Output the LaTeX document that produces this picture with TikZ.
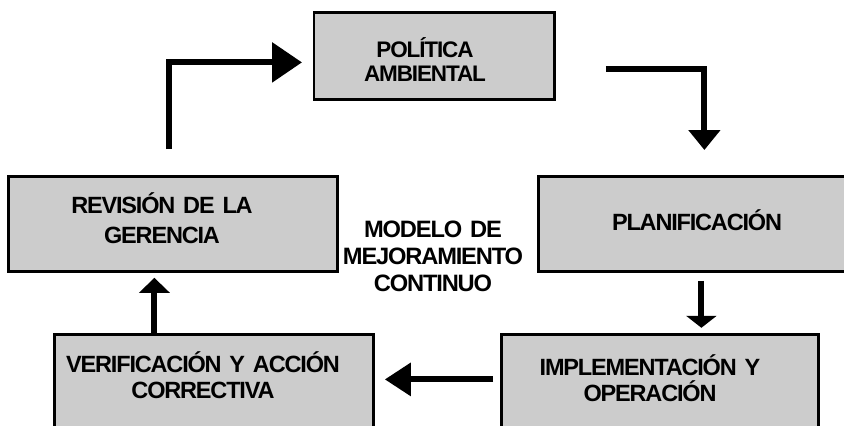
\documentclass[tikz,border=0pt]{standalone}
\usepackage{fontspec}
\setmainfont{Liberation Sans}
\newfontfamily\tightsans[LetterSpace=-5,WordSpace=0.6]{Liberation Sans}
\usetikzlibrary{arrows.meta,calc}
\definecolor{boxgray}{HTML}{CCCCCC}
\begin{document}
\begin{tikzpicture}[x=1pt,y=-1pt,
  box/.style={draw=black, fill=boxgray, line width=2.8pt, rectangle, inner sep=0pt, anchor=north west},
  lbl/.style={font=\tightsans\fontsize{23.5}{#1}\selectfont\bfseries, text width=340pt, align=center, anchor=base, inner sep=0pt},
  lbl/.default=24,
  conn/.style={line width=6pt, draw=black},
]
\useasboundingbox (0,0) rectangle (844,426);
\clip (0,0) rectangle (844,426);

% boxes
\node[box, minimum width=240.5pt, minimum height=87pt] (pol) at (312.5,11) {};
\node[box, minimum width=329pt, minimum height=95pt] (rev) at (7,175) {};
\node[box, minimum width=320pt, minimum height=95pt] (pla) at (537,175) {};
\node[box, minimum width=319pt, minimum height=120pt] (ver) at (53,333) {};
\node[box, minimum width=317pt, minimum height=120pt] (imp) at (500,333) {};

% labels
\node[lbl=24, font=\tightsans\fontsize{22.5}{24}\selectfont\bfseries] (tpol) at (425,57) {POLÍTICA\\AMBIENTAL};
\node[lbl=30] (trev) at (162,213) {REVISIÓN DE LA\\GERENCIA};
\node[lbl] (tpla) at (697,230) {PLANIFICACIÓN};
\node[lbl=26.5] (tver) at (203,372) {VERIFICACIÓN Y ACCIÓN\\CORRECTIVA};
\node[lbl=26.7] (timp) at (650,375) {IMPLEMENTACIÓN Y\\OPERACIÓN};
\node[lbl=27, font=\tightsans\fontsize{23.7}{27}\selectfont\bfseries] (tmod) at (433,237) {MODELO DE\\MEJORAMIENTO\\CONTINUO};

% connectors
\draw[conn, -{Triangle[length=30pt,width=39pt]}] ($(rev.north)+(-3.5,-26)$) |- ($(pol.west)+(-10.5,6.5)$);
\draw[conn, -{Triangle[length=20pt,width=31pt]}] ($(pol.east)+(50,13.5)$) -| ($(pla.north)+(6,-25)$);
\draw[conn, -{Triangle[length=12pt,width=30pt]}] ($(pla.south)+(3,8)$) -- ($(pla.south)+(3,55)$);
\draw[conn, -{Triangle[length=26pt,width=32pt]}] ($(imp.west)+(-7,-15)$) -- ($(ver.east)+(10,-15)$);
\draw[conn, -{Triangle[length=15pt,width=30pt]}] ($(ver.north)+(-59.5,0)$) -- ($(rev.south)+(-18.5,5)$);
\end{tikzpicture}
\end{document}
